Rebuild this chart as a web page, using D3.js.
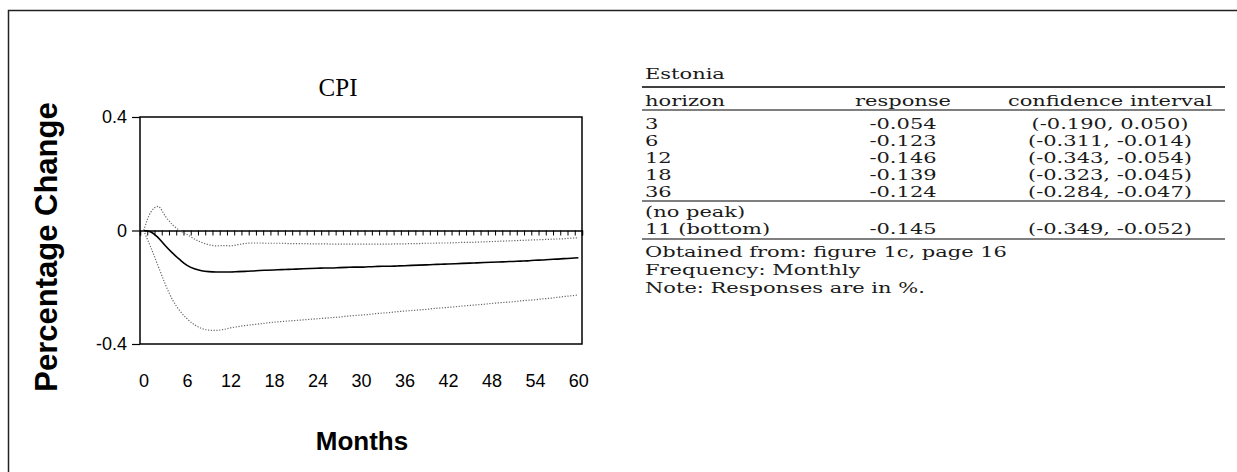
<!DOCTYPE html>
<html>
<head>
<meta charset="utf-8">
<script src="https://cdn.jsdelivr.net/npm/d3@7"></script>
<style>
  html, body { margin: 0; padding: 0; background: #fff; overflow: hidden; }
  svg { display: block; }
</style>
</head>
<body>
<div id="chart"></div>
<script>
// ---- data ----
const months = d3.range(0, 61);
const response = [0, -0.005, -0.025, -0.054, -0.080, -0.103, -0.123, -0.135, -0.142, -0.145,
  -0.146, -0.146, -0.146, -0.145, -0.144, -0.143, -0.141, -0.140, -0.139, -0.138,
  -0.137, -0.136, -0.135, -0.134, -0.133, -0.132, -0.132, -0.131, -0.130, -0.129,
  -0.129, -0.128, -0.127, -0.126, -0.126, -0.125, -0.124, -0.123, -0.122, -0.121,
  -0.120, -0.119, -0.118, -0.117, -0.116, -0.115, -0.114, -0.113, -0.112, -0.111,
  -0.110, -0.109, -0.108, -0.107, -0.105, -0.104, -0.102, -0.101, -0.099, -0.098, -0.096];
const upper = [0, 0.065, 0.085, 0.050, 0.020, 0.000, -0.014, -0.030, -0.042, -0.050,
  -0.054, -0.053, -0.054, -0.050, -0.046, -0.044, -0.044, -0.045, -0.045, -0.045,
  -0.046, -0.046, -0.046, -0.047, -0.047, -0.047, -0.048, -0.048, -0.048, -0.048,
  -0.048, -0.048, -0.048, -0.048, -0.048, -0.047, -0.047, -0.046, -0.046, -0.045,
  -0.045, -0.044, -0.044, -0.043, -0.042, -0.042, -0.041, -0.040, -0.039, -0.038,
  -0.037, -0.036, -0.035, -0.034, -0.033, -0.032, -0.031, -0.030, -0.029, -0.027, -0.026];
const lower = [0, -0.060, -0.125, -0.190, -0.245, -0.283, -0.311, -0.332, -0.345, -0.351,
  -0.352, -0.349, -0.343, -0.339, -0.335, -0.332, -0.329, -0.326, -0.323, -0.321,
  -0.319, -0.317, -0.315, -0.313, -0.311, -0.309, -0.307, -0.305, -0.302, -0.300,
  -0.298, -0.296, -0.293, -0.291, -0.289, -0.286, -0.284, -0.282, -0.280, -0.278,
  -0.275, -0.273, -0.271, -0.269, -0.266, -0.264, -0.262, -0.260, -0.257, -0.255,
  -0.253, -0.251, -0.248, -0.246, -0.244, -0.241, -0.239, -0.236, -0.233, -0.230, -0.227];
const xTickLabels = [0, 6, 12, 18, 24, 30, 36, 42, 48, 54, 60];
const yTickLabels = [0.4, 0, -0.4];
const yTickText = ["0.4", "0", "-0.4"];

const tableTitle = "Estonia";
const tableHeader = ["horizon", "response", "confidence interval"];
const tableHorizons = ["3", "6", "12", "18", "36"];
const tableResponses = ["-0.054", "-0.123", "-0.146", "-0.139", "-0.124"];
const tableCIs = ["(-0.190, 0.050)", "(-0.311, -0.014)", "(-0.343, -0.054)", "(-0.323, -0.045)", "(-0.284, -0.047)"];
const peakRows = [["(no peak)", "", ""], ["11 (bottom)", "-0.145", "(-0.349, -0.052)"]];
const notes = ["Obtained from: figure 1c, page 16", "Frequency: Monthly", "Note: Responses are in %."];

// ---- layout ----
const W = 1237, H = 472;
const svg = d3.select("#chart").append("svg").attr("width", W).attr("height", H);

// outer frame (left & top edges visible)
svg.append("rect").attr("x", 8.5).attr("y", 10.5).attr("width", W + 20).attr("height", H + 20)
  .attr("fill", "none").attr("stroke", "#222").attr("stroke-width", 1.5);

const plot = {left: 140, right: 582, top: 117, bottom: 344};
const x = d3.scaleLinear().domain([-0.5, 60.5]).range([plot.left, plot.right]);
const y = d3.scaleLinear().domain([-0.4, 0.4]).range([plot.bottom, plot.top]);

const g = svg.append("g");

// plot frame
g.append("rect").attr("x", plot.left).attr("y", plot.top)
  .attr("width", plot.right - plot.left).attr("height", plot.bottom - plot.top)
  .attr("fill", "none").attr("stroke", "#000").attr("stroke-width", 1.5);

// y axis ticks
const yAxis = d3.axisLeft(y).tickValues(yTickLabels).tickSize(8)
  .tickFormat((d, i) => yTickText[i]);
const yg = g.append("g").attr("transform", `translate(${plot.left},0)`).call(yAxis);
yg.select(".domain").remove();
yg.selectAll(".tick line").attr("stroke", "#000").attr("stroke-width", 1.2);
yg.selectAll(".tick text").attr("font-family", "Liberation Sans, Arial, sans-serif")
  .attr("font-size", 18).attr("fill", "#000").attr("x", -13);

// x axis labels (bottom)
const xAxis = d3.axisBottom(x).tickValues(xTickLabels).tickSize(0).tickPadding(30);
const xg = g.append("g").attr("transform", `translate(0,${plot.bottom})`).call(xAxis);
xg.select(".domain").remove();
xg.selectAll(".tick text").attr("font-family", "Liberation Sans, Arial, sans-serif")
  .attr("font-size", 18).attr("fill", "#000");

// zero line with monthly ticks
const zAxis = d3.axisBottom(x).tickValues(d3.range(-0.5, 60.6, 1)).tickSize(5).tickFormat("");
const zg = g.append("g").attr("transform", `translate(0,${y(0)})`).call(zAxis);
zg.select(".domain").attr("stroke", "#000").attr("stroke-width", 1.5);
zg.selectAll(".tick line").attr("stroke", "#000").attr("stroke-width", 1);

// lines
const line = d3.line().x((d, i) => x(months[i])).y(d => y(d)).curve(d3.curveMonotoneX);
g.append("path").datum(upper).attr("d", line).attr("fill", "none")
  .attr("stroke", "#666").attr("stroke-width", 1.2).attr("stroke-dasharray", "1.2,1.6");
g.append("path").datum(lower).attr("d", line).attr("fill", "none")
  .attr("stroke", "#666").attr("stroke-width", 1.2).attr("stroke-dasharray", "1.2,1.6");
g.append("path").datum(response).attr("d", line).attr("fill", "none")
  .attr("stroke", "#000").attr("stroke-width", 1.6);

// titles
g.append("text").attr("x", 338).attr("y", 96).attr("text-anchor", "middle")
  .attr("font-family", "Liberation Serif, Times New Roman, serif").attr("font-size", 25)
  .text("CPI");
g.append("text").attr("transform", "translate(57,247) rotate(-90)").attr("text-anchor", "middle")
  .attr("font-family", "Liberation Sans, Arial, sans-serif").attr("font-weight", "bold").attr("font-size", 31)
  .text("Percentage Change");
g.append("text").attr("x", 362).attr("y", 450).attr("text-anchor", "middle")
  .attr("font-family", "Liberation Sans, Arial, sans-serif").attr("font-weight", "bold").attr("font-size", 26)
  .text("Months");

// ---- table ----
const tf = "DejaVu Serif, serif";
const tfs = 14;
const sx = 1.5;
const colX = {left: 645, resp: 903, ci: 1110};
const ruleX0 = 642, ruleX1 = 1225;
const t = svg.append("g").attr("font-family", tf).attr("font-size", tfs).attr("fill", "#1a1a1a");
function txt(xp, yp, s, anchor) {
  t.append("text").attr("transform", `translate(${xp},${yp}) scale(${sx},1)`)
    .attr("dy", "0.36em").attr("text-anchor", anchor || "start").text(s);
}
function rule(yp, w) {
  t.append("line").attr("x1", ruleX0).attr("x2", ruleX1).attr("y1", yp).attr("y2", yp)
    .attr("stroke", "#000").attr("stroke-width", w || 1.2);
}
txt(colX.left, 74, tableTitle);
rule(87, 1.6);
txt(colX.left, 101, tableHeader[0]);
txt(colX.resp, 101, tableHeader[1], "middle");
txt(colX.ci, 101, tableHeader[2], "middle");
rule(110);
const rowY = d3.scaleLinear().domain([0, 4]).range([124, 192]);
tableHorizons.forEach((h, i) => {
  txt(colX.left, rowY(i), h);
  txt(colX.resp, rowY(i), tableResponses[i], "middle");
  txt(colX.ci, rowY(i), tableCIs[i], "middle");
});
rule(201);
peakRows.forEach((r, i) => {
  const yp = 212 + i * 17;
  txt(colX.left, yp, r[0]);
  if (r[1]) txt(colX.resp, yp, r[1], "middle");
  if (r[2]) txt(colX.ci, yp, r[2], "middle");
});
rule(239);
notes.forEach((n, i) => txt(colX.left, 252 + i * 18, n));
</script>
</body>
</html>
